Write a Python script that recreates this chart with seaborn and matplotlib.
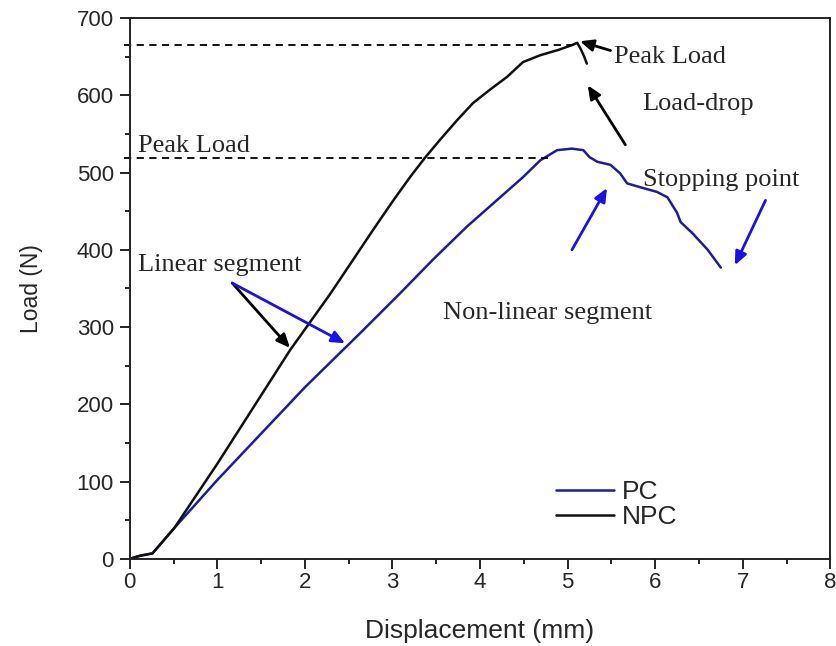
import matplotlib
matplotlib.use("Agg")
import matplotlib.pyplot as plt
import seaborn as sns
import pandas as pd
from matplotlib.ticker import MultipleLocator

# Load-displacement curves (mm, N)
npc_disp = [0, 0.12, 0.26, 0.51, 1.0, 1.83, 2.29, 2.55, 2.78, 3.01, 3.2, 3.37,
            3.54, 3.74, 3.92, 4.11, 4.31, 4.49, 4.69, 4.9, 5.05, 5.11, 5.15,
            5.19, 5.22]
npc_load = [0, 4, 7, 40, 123, 270, 343, 387, 426, 464, 494, 519,
            542, 568, 590, 607, 624, 643, 652, 659, 665, 668, 660,
            650, 641]

pc_disp = [0, 0.12, 0.26, 0.51, 1.0, 1.5, 2.0, 2.63, 3.09, 3.46, 3.85, 4.23,
           4.49, 4.69, 4.88, 5.05, 5.18, 5.25, 5.34, 5.49, 5.6, 5.68, 5.83,
           6.02, 6.14, 6.25, 6.29, 6.43, 6.6, 6.75]
pc_load = [0, 4, 7, 40, 102, 162, 222, 292, 344, 387, 430, 468,
           494, 516, 529, 531, 529, 520, 514, 510, 499, 486, 481,
           475, 468, 448, 436, 421, 400, 377]

peak_npc = 665
peak_pc = 519

sns.set_style("ticks")
plt.rcParams["font.family"] = ["Liberation Sans", "DejaVu Sans"]

df = pd.concat([
    pd.DataFrame({"Displacement": pc_disp, "Load": pc_load, "Sample": "PC"}),
    pd.DataFrame({"Displacement": npc_disp, "Load": npc_load, "Sample": "NPC"}),
])

fig = plt.figure(figsize=(8.37, 6.46), dpi=100)
ax = fig.add_axes([0.155, 0.135, 0.837, 0.837])

sns.lineplot(data=df, x="Displacement", y="Load", hue="Sample", sort=False,
             palette={"PC": "#1c1c9c", "NPC": "#111111"}, linewidth=1.8,
             estimator=None, ax=ax)

ax.set_xlim(0, 8)
ax.set_ylim(0, 700)
ax.xaxis.set_major_locator(MultipleLocator(1))
ax.xaxis.set_minor_locator(MultipleLocator(0.5))
ax.yaxis.set_major_locator(MultipleLocator(100))
ax.yaxis.set_minor_locator(MultipleLocator(50))
ax.tick_params(which="major", direction="out", length=7, width=1.4,
               labelsize=16, color="#222222")
ax.tick_params(which="minor", direction="out", length=3.3, width=1.4,
               color="#222222")
ax.tick_params(axis="x", which="major", pad=2.5)
ax.tick_params(axis="y", which="major", pad=4.5)
for s in ax.spines.values():
    s.set_linewidth(1.4)
    s.set_color("#222222")
ax.set_xlabel("Displacement (mm)", fontsize=19, labelpad=19)
ax.set_ylabel("Load (N)", fontsize=16.5, labelpad=24)

# peak reference lines
ax.plot([-0.06, 5.12], [peak_npc, peak_npc], ls=(0, (4, 3)), color="black",
        lw=1.3, clip_on=False)
ax.plot([-0.06, 4.78], [peak_pc, peak_pc], ls=(0, (4, 3)), color="black",
        lw=1.3, clip_on=False)

serif = dict(family=["Liberation Serif", "DejaVu Serif"], fontsize=19)
ax.text(5.53, 649, "Peak Load", va="center", ha="left", **serif)
ax.text(5.85, 589, "Load-drop", va="center", ha="left", **serif)
ax.text(0.09, 534, "Peak Load", va="center", ha="left", **serif)
ax.text(5.86, 490, "Stopping point", va="center", ha="left", **serif)
ax.text(0.09, 380, "Linear segment", va="center", ha="left", **serif)
ax.text(3.58, 318, "Non-linear segment", va="center", ha="left", **serif)

def arrow(tail, head, color):
    ax.annotate("", xy=head, xytext=tail,
                arrowprops=dict(arrowstyle="-|>,head_length=0.8,head_width=0.35",
                                color=color, lw=2.0, shrinkA=0, shrinkB=0))

arrow((5.49, 658), (5.14, 670), "black")
arrow((5.66, 536), (5.23, 613), "black")
arrow((1.17, 357), (1.83, 273), "black")
arrow((1.17, 357), (2.46, 279), "#1a10e8")
arrow((5.05, 400), (5.45, 480), "#1a10e8")
arrow((7.26, 464), (6.91, 380), "#1a10e8")

leg = ax.legend(loc="lower left", bbox_to_anchor=(0.574, 0.011), frameon=False,
                fontsize=19, handlelength=2.2, handletextpad=0.3,
                labelspacing=0.05, title=None)

fig.savefig("out.png", dpi=100)
